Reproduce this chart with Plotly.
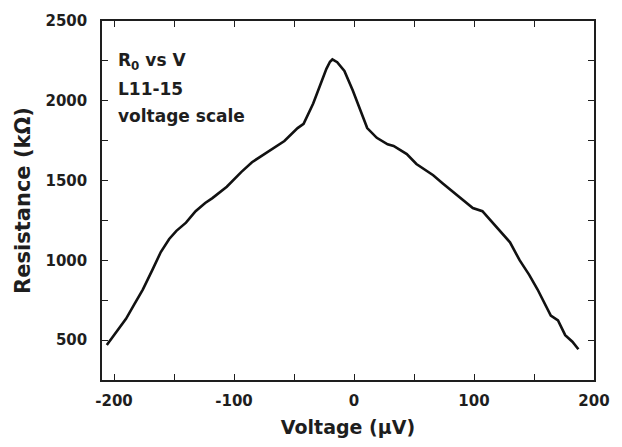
import plotly.graph_objects as go

voltage_uV = [-206, -197, -190, -183, -176, -168, -161, -154, -148, -140, -132, -124, -118,
              -106, -94, -85, -71, -58, -47, -42, -34, -28, -23, -20, -18, -14, -8, -1,
              6, 11, 19, 28, 33, 44, 52, 66, 74, 86, 99, 107, 113, 121, 130, 138, 146,
              153, 158, 164, 170, 176, 182, 187]
resistance_kohm = [469, 561, 633, 725, 817, 940, 1052, 1134, 1185, 1236, 1308, 1359, 1390,
                   1461, 1553, 1615, 1686, 1748, 1829, 1855, 1983, 2105, 2200, 2245, 2259, 2242, 2187, 2064,
                   1932, 1829, 1768, 1727, 1717, 1666, 1604, 1533, 1482, 1410, 1328, 1308, 1257, 1196, 1113, 1001, 909,
                   817, 745, 653, 623, 531, 490, 443]

x_ticks = [-200, -100, 0, 100, 200]
y_ticks = [500, 1000, 1500, 2000, 2500]
label_lines = ["R<sub>0</sub> vs V", "L11-15", "voltage scale"]

FONT = "DejaVu Sans"
INK = "#1e1e1e"
fig = go.Figure()
fig.add_trace(go.Scatter(x=voltage_uV, y=resistance_kohm, mode="lines",
                         line=dict(color="#111111", width=2.6), showlegend=False))

axis_common = dict(showline=True, linecolor=INK, linewidth=1.5, mirror="ticks",
                   ticks="inside", ticklen=6, tickwidth=1.3, tickcolor=INK,
                   showgrid=False, zeroline=False,
                   tickfont=dict(family=FONT, size=15, color=INK))

fig.update_xaxes(range=[-210, 200], tickvals=x_ticks, ticktext=[f"<b>{v}</b>" for v in x_ticks],
                 minor=dict(dtick=50, ticks="inside", ticklen=6, tickwidth=1.3, tickcolor=INK),
                 title=dict(text="<b>Voltage (\u03bcV)</b>", font=dict(family=FONT, size=19, color=INK), standoff=12),
                 ticklabelstandoff=6,
                 **axis_common)
fig.update_yaxes(range=[250, 2500], tickvals=y_ticks, ticktext=[f"<b>{v}</b>" for v in y_ticks],
                 minor=dict(dtick=250, ticks="inside", ticklen=6, tickwidth=1.3, tickcolor=INK),
                 title=dict(text="<b>Resistance (k\u03a9)</b>", font=dict(family=FONT, size=21, color=INK), standoff=9),
                 ticklabelstandoff=10,
                 **axis_common)

for txt, yp in zip(label_lines, [0.886, 0.811, 0.736]):
    fig.add_annotation(text=f"<b>{txt}</b>", xref="paper", yref="paper", x=0.028, y=yp,
                       xanchor="left", yanchor="middle", showarrow=False,
                       font=dict(family=FONT, size=17, color=INK))

fig.update_layout(width=622, height=447, margin=dict(l=102, r=23, t=15, b=65),
                  paper_bgcolor="white", plot_bgcolor="white")
fig.write_html("out.html")
